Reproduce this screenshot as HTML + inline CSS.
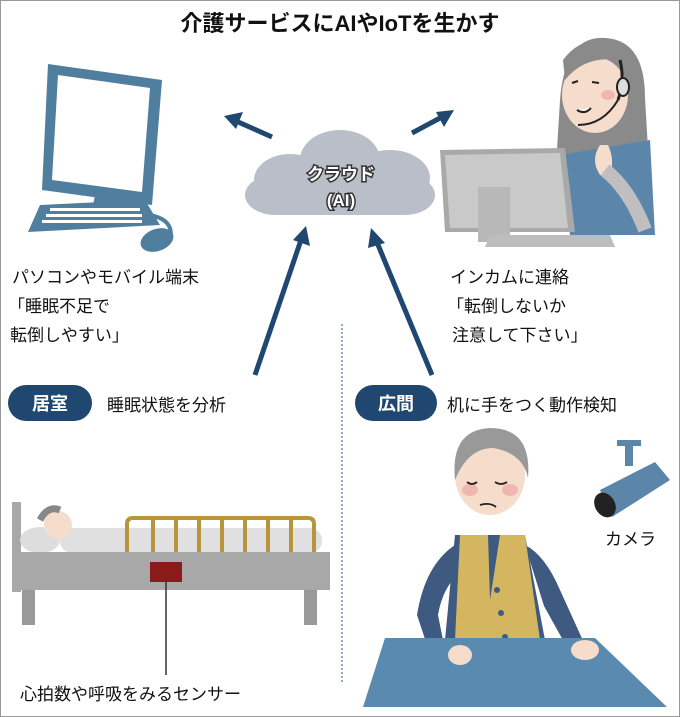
<!DOCTYPE html>
<html><head><meta charset="utf-8"><style>
body{margin:0;background:#fff}
svg{display:block}
text{font-family:"Liberation Sans","Noto Sans CJK JP",sans-serif}
</style></head><body>
<svg width="680" height="717" viewBox="0 0 680 717">
<rect x="0.5" y="0.5" width="679" height="716" fill="#fff" stroke="#999"/>
<text x="340" y="31" font-size="22" font-weight="bold" text-anchor="middle" fill="#111">介護サービスにAIやIoTを生かす</text>

<!-- left PC -->
<polygon points="48,64 162,80 152,205 42,190" fill="#4f7e9e"/>
<polygon points="58,75 150,88 142,192 52,180" fill="#fff"/>
<polygon points="95,195 125,198 130,212 92,210" fill="#4f7e9e"/>
<polygon points="40,205 145,200 160,225 28,232" fill="#4f7e9e"/>
<g fill="#fff">
<rect x="50" y="208" width="90" height="3"/><rect x="46" y="214" width="96" height="3"/><rect x="42" y="220" width="100" height="3"/>
</g>
<path d="M150,215 q25,5 20,25" stroke="#4f7e9e" stroke-width="4" fill="none"/>
<ellipse cx="157" cy="240" rx="17" ry="11" fill="#4f7e9e" transform="rotate(-20 157 240)"/>

<!-- arrows top -->
<g stroke="#1f4770" stroke-width="5" fill="#1f4770">
<line x1="272" y1="137" x2="236" y2="121"/>
<polygon points="224,116 243,112 236,129" stroke="none"/>
<line x1="412" y1="133" x2="442" y2="117"/>
<polygon points="454,110 444,127 436,112" stroke="none"/>
<line x1="255" y1="375" x2="301" y2="240"/>
<polygon points="306,226 310,246 293,240" stroke="none"/>
<line x1="432" y1="375" x2="376" y2="240"/>
<polygon points="371,228 385,243 368,248" stroke="none"/>
</g>

<!-- cloud -->
<g fill="#b9bec8">
<ellipse cx="340" cy="160" rx="40" ry="30"/>
<ellipse cx="290" cy="180" rx="36" ry="26"/>
<ellipse cx="390" cy="178" rx="40" ry="28"/>
<ellipse cx="275" cy="195" rx="30" ry="20"/>
<ellipse cx="405" cy="195" rx="30" ry="20"/>
<rect x="265" y="180" width="150" height="35" rx="15"/>
</g>
<text x="341" y="180" font-size="17" font-weight="bold" fill="#fff" text-anchor="middle" stroke="#333" stroke-width="3" paint-order="stroke">クラウド</text>
<text x="341" y="206" font-size="17" font-weight="bold" fill="#fff" text-anchor="middle" stroke="#333" stroke-width="3" paint-order="stroke">(AI)</text>

<!-- woman -->
<path d="M560,100 q5,-65 45,-62 q40,2 40,60 l5,85 l-95,0 z" fill="#8a8a8a"/>
<ellipse cx="595" cy="95" rx="33" ry="38" fill="#f5dccb"/>
<path d="M565,80 q20,-25 55,-20 l5,-15 q-40,-15 -62,15 z" fill="#8a8a8a"/>
<polygon points="560,155 650,140 655,235 570,235" fill="#5b86aa"/>
<path d="M600,145 q-10,15 0,30 l10,0 q5,-15 -2,-30 z" fill="#f5dccb"/>
<path d="M620,60 q5,20 -2,40" stroke="#222" stroke-width="3" fill="none"/>
<ellipse cx="623" cy="87" rx="6" ry="9" fill="#ddd" stroke="#222" stroke-width="2"/>
<path d="M618,100 q-15,25 -40,25" stroke="#222" stroke-width="2" fill="none"/>
<ellipse cx="608" cy="95" rx="7" ry="5" fill="#f0b7b0"/>
<path d="M572,83 l6,-2 M592,82 l7,1" stroke="#222" stroke-width="2"/>
<path d="M577,110 q8,5 14,-2" stroke="#222" stroke-width="2" fill="#fff"/>
<!-- right monitor -->
<polygon points="440,150 565,148 575,232 445,232" fill="#a9a9a9"/>
<polygon points="445,155 560,153 568,228 450,228" fill="#c9c9c9"/>
<rect x="478" y="187" width="32" height="55" fill="#b8b8b8"/>
<polygon points="490,235 610,235 615,247 485,247" fill="#bdbdbd"/>
<path d="M605,170 q25,20 40,60" stroke="#bfbfbf" stroke-width="14" fill="none"/>

<!-- texts top -->
<g font-size="17" fill="#111">
<text x="12" y="283">パソコンやモバイル端末</text>
<text x="8" y="312">「睡眠不足で</text>
<text x="10" y="341">転倒しやすい」</text>
<text x="450" y="283">インカムに連絡</text>
<text x="447" y="312">「転倒しないか</text>
<text x="452" y="341">注意して下さい」</text>
</g>

<line x1="342" y1="324" x2="342" y2="682" stroke="#6a8fb5" stroke-width="1.5" stroke-dasharray="2,2"/>

<!-- pills -->
<rect x="8" y="385" width="84" height="36" rx="18" fill="#1f4770"/>
<text x="50" y="410" font-size="18" font-weight="bold" fill="#fff" text-anchor="middle">居室</text>
<text x="107" y="411" font-size="17" fill="#111">睡眠状態を分析</text>
<rect x="355" y="385" width="82" height="36" rx="18" fill="#1f4770"/>
<text x="396" y="410" font-size="18" font-weight="bold" fill="#fff" text-anchor="middle">広間</text>
<text x="447" y="411" font-size="17" fill="#111">机に手をつく動作検知</text>

<!-- bed -->
<rect x="12" y="502" width="9" height="90" fill="#a8a8a8"/>
<ellipse cx="40" cy="540" rx="20" ry="13" fill="#ddd"/>
<rect x="60" y="528" width="262" height="25" rx="12" fill="#e0e0e0"/>
<ellipse cx="58" cy="525" rx="14" ry="14" fill="#f5dccb"/>
<path d="M40,520 q8,-15 20,-10" stroke="#888" stroke-width="7" fill="none"/>
<g stroke="#b8953a" stroke-width="4" fill="none">
<path d="M127,552 v-28 q0,-6 6,-6 h175 q6,0 6,6 v28"/>
<line x1="153" y1="520" x2="153" y2="552"/><line x1="176" y1="520" x2="176" y2="552"/><line x1="199" y1="520" x2="199" y2="552"/><line x1="222" y1="520" x2="222" y2="552"/><line x1="245" y1="520" x2="245" y2="552"/><line x1="268" y1="520" x2="268" y2="552"/><line x1="291" y1="520" x2="291" y2="552"/>
</g>
<rect x="12" y="552" width="318" height="38" fill="#a8a8a8"/>
<rect x="22" y="590" width="13" height="35" fill="#999"/>
<rect x="304" y="590" width="13" height="35" fill="#999"/>
<rect x="150" y="562" width="32" height="20" fill="#8b1a1a"/>
<line x1="166" y1="582" x2="166" y2="675" stroke="#333" stroke-width="1.5"/>
<text x="20" y="700" font-size="17" fill="#111">心拍数や呼吸をみるセンサー</text>

<!-- man -->
<path d="M455,545 q-30,20 -38,70 l15,45 l14,-5 l-8,-40 q5,-30 25,-45 z" fill="#3e5a80"/>
<path d="M525,545 q20,10 35,45 l25,55 l-16,6 l-25,-45 z" fill="#3e5a80"/>
<polygon points="455,535 525,535 545,640 445,640" fill="#3e5a80"/>
<polygon points="460,535 488,535 490,600 500,535 525,535 540,640 455,640" fill="#d4b560"/>
<circle cx="497" cy="590" r="3" fill="#3e5a80"/><circle cx="501" cy="613" r="3" fill="#3e5a80"/><circle cx="505" cy="637" r="3" fill="#3e5a80"/>
<ellipse cx="490" cy="475" rx="35" ry="40" fill="#f5dccb"/>
<path d="M455,480 q-5,-50 35,-52 q42,0 38,50 q-5,-25 -35,-30 q-25,0 -38,32 z" fill="#999"/>
<ellipse cx="470" cy="490" rx="8" ry="6" fill="#f0b7b0"/><ellipse cx="510" cy="490" rx="8" ry="6" fill="#f0b7b0"/>
<path d="M467,482 q5,4 10,0 M495,482 q6,4 12,0 M480,505 q10,-3 16,2" stroke="#222" stroke-width="1.8" fill="none"/>
<polygon points="385,638 595,638 667,707 363,707" fill="#5a8ab0"/>
<ellipse cx="460" cy="655" rx="12" ry="10" fill="#f5dccb"/>
<ellipse cx="585" cy="650" rx="14" ry="10" fill="#f5dccb"/>

<!-- camera -->
<rect x="617" y="440" width="24" height="6" fill="#5b86aa"/>
<rect x="625" y="444" width="8" height="22" fill="#5b86aa"/>
<polygon points="600,490 655,462 670,480 612,517" fill="#5b86aa"/>
<ellipse cx="605" cy="505" rx="10" ry="13" fill="#222" transform="rotate(-30 605 505)"/>
<text x="605" y="545" font-size="17" fill="#111">カメラ</text>
</svg>
</body></html>
